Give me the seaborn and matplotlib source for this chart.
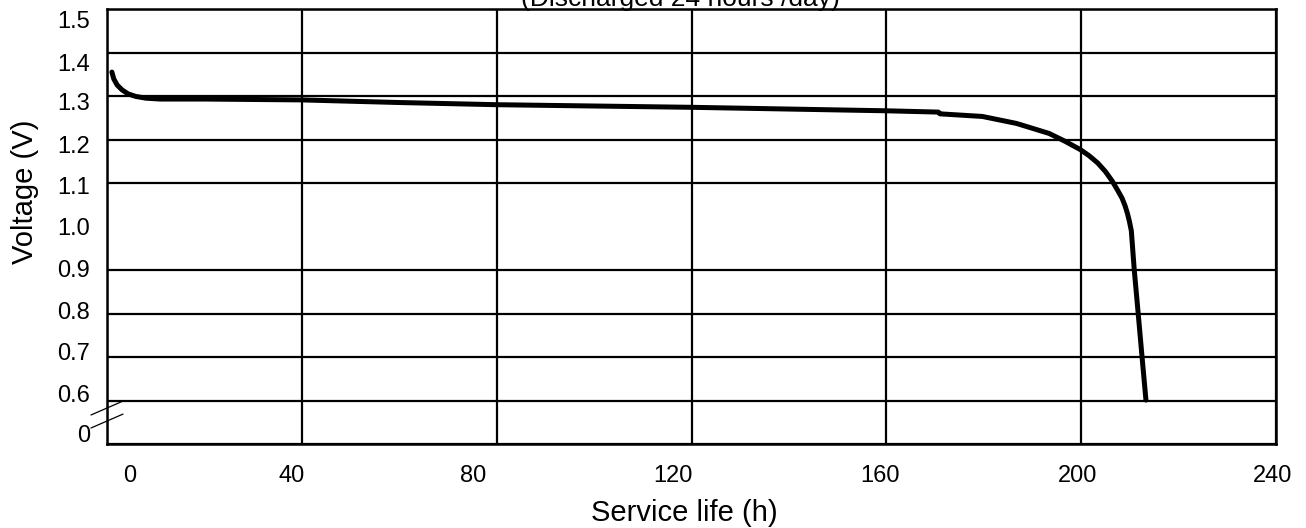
import matplotlib
matplotlib.use("Agg")
import numpy as np
import matplotlib.pyplot as plt
import seaborn as sns

# discharge curve (hours, volts)
hours = [1.0, 1.4, 2.1, 3.1, 4.3, 5.9, 8.0, 10.9, 20, 40, 60, 80, 100, 120,
         140, 160, 170.7, 171.0, 179.7, 186.7, 193.4, 196.5, 199.8, 201.6,
         203.4, 205.0, 206.4, 207.5, 208.4, 209.0, 209.5, 209.9, 210.3,
         210.9, 211.7, 212.5, 213.3]
voltage = [1.355, 1.339, 1.325, 1.314, 1.305, 1.299, 1.295, 1.293, 1.293,
           1.291, 1.285, 1.280, 1.277, 1.274, 1.270, 1.266, 1.263, 1.259,
           1.253, 1.237, 1.214, 1.197, 1.177, 1.163, 1.146, 1.126, 1.104,
           1.083, 1.065, 1.048, 1.030, 1.012, 0.990, 0.900, 0.801, 0.700,
           0.601]

x_labels = ["0", "40", "80", "120", "160", "200", "240"]
y_labels = ["1.5", "1.4", "1.3", "1.2", "1.1", "1.0", "0.9", "0.8", "0.7", "0.6", "0"]

# grid lines and (slightly off-grid) label positions as in the original
x_grid = np.arange(0, 241, 40)
y_grid = np.round(np.arange(0.5, 1.51, 0.1), 2)
x_label_pos = [4.7, 37.9, 75.1, 116.1, 158.6, 199.2, 239.2]
y_label_pos = [1.477, 1.378, 1.287, 1.188, 1.095, 1.0, 0.904, 0.807, 0.713, 0.616, 0.524]

sns.set_theme(style="white")
plt.rcParams["font.family"] = ["Liberation Sans", "DejaVu Sans"]

fig = plt.figure(figsize=(13.06, 5.28), dpi=100)
ax = fig.add_axes([107 / 1306, 1 - 444 / 528, 1169 / 1306, 435 / 528])

sns.lineplot(x=hours, y=voltage, color="black", linewidth=3.6, ax=ax)

ax.set_xlim(0, 240)
ax.set_ylim(0.5, 1.5)

ax.set_xticks(x_grid, minor=True)
ax.set_yticks(y_grid, minor=True)
ax.set_xticks(x_label_pos)
ax.set_xticklabels(x_labels)
ax.set_yticks(y_label_pos)
ax.set_yticklabels(y_labels)
ax.grid(False)
ax.grid(which="minor", color="black", linewidth=1.6)
ax.tick_params(which="both", length=0, colors="black", labelsize=17)
ax.tick_params(axis="x", pad=15)
ax.tick_params(axis="y", pad=12)

for side in ax.spines.values():
    side.set_visible(True)
    side.set_color("black")
    side.set_linewidth(1.8)

ax.set_xlabel("Service life (h)", fontsize=21, color="black")
ax.set_ylabel("Voltage (V)", fontsize=21, color="black")
ax.xaxis.set_label_coords(0.4936, -0.127)
ax.yaxis.set_label_coords(-0.058, 0.579)

# axis break marks
for y0 in (0.0667, 0.0368):
    ax.plot([-0.0137, 0.0137], [y0, y0 + 0.032], color="black", linewidth=0.9,
            transform=ax.transAxes, clip_on=False)

fig.text(680 / 1306, 1 - 6 / 528, "(Discharged 24 hours /day)", ha="center",
         va="baseline", fontsize=19, color="black")

fig.savefig("out.png", dpi=100, facecolor="white")
plt.close(fig)
